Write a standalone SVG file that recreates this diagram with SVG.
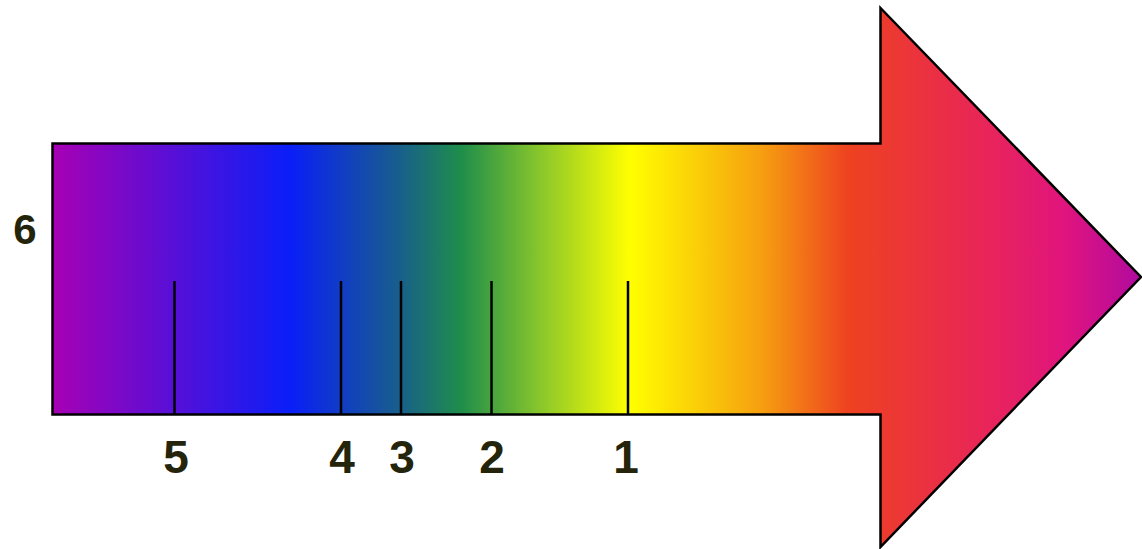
<svg xmlns="http://www.w3.org/2000/svg" width="1142" height="549" viewBox="0 0 1142 549">
<style>
.lbl{font-family:"Liberation Sans",Arial,sans-serif;font-weight:bold;font-size:46px;fill:#24240a;text-anchor:middle}
.tick{stroke:#000;stroke-width:2.5}
</style>
<defs>
<linearGradient id="spec" gradientUnits="userSpaceOnUse" x1="52" y1="0" x2="1142" y2="0">
<stop offset="0" stop-color="#a800b4"/>
<stop offset="0.218" stop-color="#0a1ef8"/>
<stop offset="0.318" stop-color="#185e8c"/>
<stop offset="0.376" stop-color="#1f8e4a"/>
<stop offset="0.45" stop-color="#8cc82a"/>
<stop offset="0.53" stop-color="#ffff00"/>
<stop offset="0.65" stop-color="#f6a010"/>
<stop offset="0.73" stop-color="#ee4220"/>
<stop offset="0.86" stop-color="#e8245a"/>
<stop offset="0.93" stop-color="#e0147e"/>
<stop offset="1" stop-color="#b00aa0"/>
</linearGradient>
</defs>
<g id="arrow">
<polygon points="52.5,143.5 880.5,143.5 880.5,8 1141,277 880.5,547 880.5,414.5 52.5,414.5" fill="url(#spec)" stroke="#000" stroke-width="2.5" stroke-linejoin="miter"/>
</g>
<g id="ticks">
<line class="tick" x1="174.5" y1="281" x2="174.5" y2="414"/>
<line class="tick" x1="341" y1="281" x2="341" y2="414"/>
<line class="tick" x1="401" y1="281" x2="401" y2="414"/>
<line class="tick" x1="491.5" y1="281" x2="491.5" y2="414"/>
<line class="tick" x1="628" y1="281" x2="628" y2="414"/>
</g>
<g id="labels">
<text class="lbl" x="176" y="473">5</text>
<text class="lbl" x="342" y="473">4</text>
<text class="lbl" x="402" y="473">3</text>
<text class="lbl" x="492" y="473">2</text>
<text class="lbl" x="626" y="473">1</text>
<text class="lbl" x="25" y="244" style="font-size:42px">6</text>
</g>
</svg>
